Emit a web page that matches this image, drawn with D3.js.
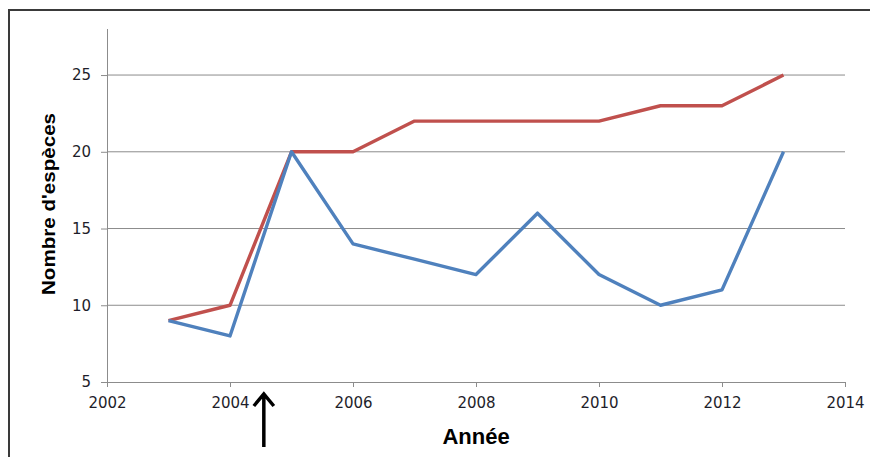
<!DOCTYPE html>
<html>
<head>
<meta charset="utf-8">
<script src="https://cdn.jsdelivr.net/npm/d3@7"></script>
<style>
  body { margin: 0; background: #fff; }
</style>
</head>
<body>
<div class="chart"></div>
<script>
// data
const years = [2003, 2004, 2005, 2006, 2007, 2008, 2009, 2010, 2011, 2012, 2013];
const redValues = [9, 10, 20, 20, 22, 22, 22, 22, 23, 23, 25];
const blueValues = [9, 8, 20, 14, 13, 12, 16, 12, 10, 11, 20];
const xTicks = [2002, 2004, 2006, 2008, 2010, 2012, 2014];
const yTicks = [5, 10, 15, 20, 25];
const arrowYear = 2004.55;

const W = 870, H = 457;
const margin = ({top: 29, right: 25, bottom: 75, left: 107});
const w = W - margin.left - margin.right;
const h = H - margin.top - margin.bottom;

var root = d3.select(".chart").append("svg")
    .attr("width", W)
    .attr("height", H);

// outer frame (only top + left visible)
root.append("path")
    .attr("d", "M9,470 L9,10 L880,10")
    .attr("fill", "none")
    .attr("stroke", "#3a3a3a")
    .attr("stroke-width", 2);

var svg = root.append("g")
    .attr("transform", "translate(" + margin.left + "," + margin.top + ")");

var x = d3.scaleLinear().domain([2002, 2014]).range([0, w]);
var y = d3.scaleLinear().domain([5, 28]).range([h, 0]);

// gridlines
svg.selectAll(".grid")
    .data(yTicks.filter(d => d > 5))
    .enter().append("line")
    .attr("x1", 0).attr("x2", w)
    .attr("y1", d => y(d)).attr("y2", d => y(d))
    .attr("stroke", "#8c8c8c")
    .attr("stroke-width", 1);

var xAxis = d3.axisBottom(x).tickValues(xTicks).tickFormat(d3.format("d")).tickSize(5).tickPadding(10);
var yAxis = d3.axisLeft(y).tickValues(yTicks).tickSize(6).tickPadding(10);

var gx = svg.append("g").attr("transform", `translate(0,${h})`).call(xAxis);
var gy = svg.append("g").call(yAxis);
[gx, gy].forEach(g => {
    g.attr("font-family", "DejaVu Sans, sans-serif").attr("font-size", 15);
    g.select(".domain").attr("stroke", "#8c8c8c");
    g.selectAll(".tick line").attr("stroke", "#8c8c8c");
    g.selectAll(".tick text").attr("fill", "#1e1e2a");
});
gy.select(".domain").attr("d", `M0.5,0V${h}`);
gx.select(".domain").attr("d", `M0,0.5H${w}`);

var line = d3.line().x(d => x(d[0])).y(d => y(d[1]));

svg.append("path")
    .datum(years.map((d, i) => [d, redValues[i]]))
    .attr("d", line)
    .attr("fill", "none")
    .attr("stroke", "#C0504D")
    .attr("stroke-width", 3.4)
    .attr("stroke-linejoin", "round");

svg.append("path")
    .datum(years.map((d, i) => [d, blueValues[i]]))
    .attr("d", line)
    .attr("fill", "none")
    .attr("stroke", "#4F81BD")
    .attr("stroke-width", 3.4)
    .attr("stroke-linejoin", "round");

// axis titles
svg.append("text")
    .attr("x", x(2008))
    .attr("y", h + 62)
    .attr("text-anchor", "middle")
    .style("font-family", "Liberation Sans, Arial, sans-serif")
    .style("font-weight", "bold")
    .style("font-size", "22px")
    .text("Année");

svg.append("text")
    .attr("transform", `translate(${48 - margin.left + 7},${204 - margin.top}) rotate(-90)`)
    .attr("text-anchor", "middle")
    .style("font-family", "Liberation Sans, Arial, sans-serif")
    .style("font-weight", "bold")
    .style("font-size", "19px")
    .attr("textLength", 182)
    .attr("lengthAdjust", "spacingAndGlyphs")
    .text("Nombre d'espèces");

// arrow under the axis
var ax = x(arrowYear);
svg.append("path")
    .attr("d", `M${ax},${h + 65} L${ax},${h + 12} M${ax - 10},${h + 24} L${ax},${h + 12} L${ax + 10},${h + 24}`)
    .attr("fill", "none")
    .attr("stroke", "#000")
    .attr("stroke-width", 3.5);
</script>
</body>
</html>
